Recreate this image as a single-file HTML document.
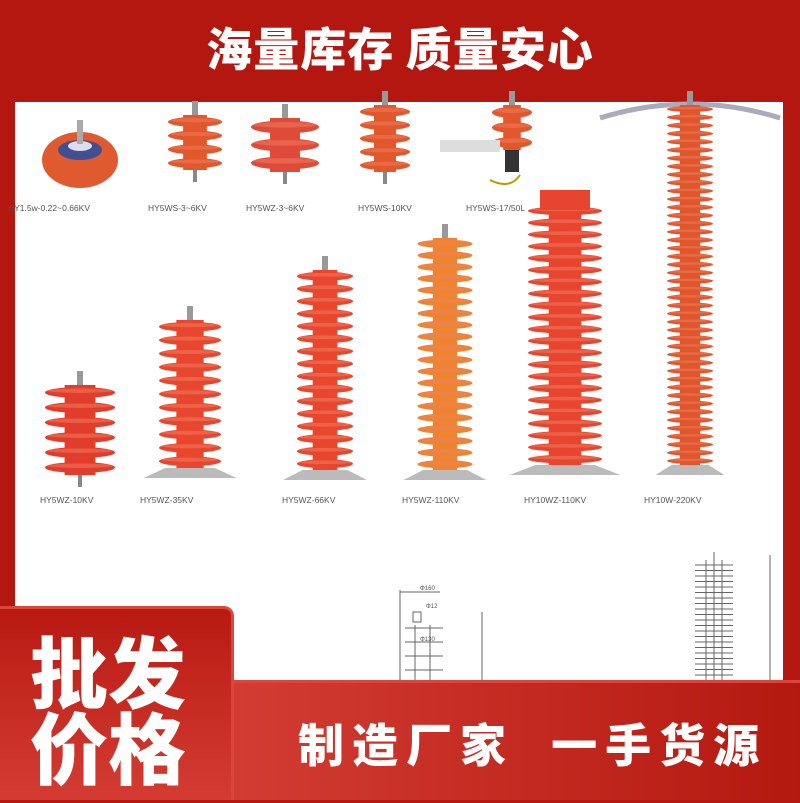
<!DOCTYPE html>
<html><head><meta charset="utf-8"><style>
*{margin:0;padding:0;box-sizing:border-box}
body{width:800px;height:800px;overflow:hidden;background:#b4170f;position:relative;font-family:"Liberation Sans","Noto Sans CJK SC",sans-serif}
.top{position:absolute;left:0;top:0;width:800px;height:100px;text-align:center;color:#fff;font-weight:900;font-size:46px;line-height:94px;letter-spacing:1px;font-family:"Noto Sans CJK SC","WenQuanYi Zen Hei",sans-serif}
.panel{position:absolute;left:15px;top:102px;width:768px;height:698px;background:#fff}
svg{position:absolute;left:0;top:0}
.lb{position:absolute;font-size:8.5px;color:#555;white-space:nowrap}
.lbox{position:absolute;left:0;top:606px;width:234px;height:194px;border-radius:0 10px 0 0;background:linear-gradient(180deg,#b81a12,#d43c33);border-top:3px solid #d9463c;border-right:3px solid #d9463c}
.lbox div{position:absolute;left:30px;color:#fff;font-weight:900;font-size:78px;line-height:76px;font-family:"Noto Sans CJK SC","WenQuanYi Zen Hei",sans-serif}
.bar{position:absolute;left:234px;top:680px;width:566px;height:120px;background:linear-gradient(90deg,#d23c33,#b41910);border-top:3px solid #d9463c;color:#fff;font-weight:900;font-size:46px;line-height:120px;padding-left:64px;letter-spacing:8px;font-family:"Noto Sans CJK SC","WenQuanYi Zen Hei",sans-serif;white-space:nowrap}
</style></head><body>
<div class="top">海量库存 质量安心</div>
<div class="panel"></div>
<svg id="s" width="800" height="800" viewBox="0 0 800 800"></svg>
<div class="lb" style="left:8px;top:203px">HY1.5w-0.22~0.66KV</div>
<div class="lb" style="left:148px;top:203px">HY5WS-3~6KV</div>
<div class="lb" style="left:246px;top:203px">HY5WZ-3~6KV</div>
<div class="lb" style="left:358px;top:203px">HY5WS-10KV</div>
<div class="lb" style="left:466px;top:203px">HY5WS-17/50L</div>
<div class="lb" style="left:40px;top:495px">HY5WZ-10KV</div>
<div class="lb" style="left:140px;top:495px">HY5WZ-35KV</div>
<div class="lb" style="left:282px;top:495px">HY5WZ-66KV</div>
<div class="lb" style="left:402px;top:495px">HY5WZ-110KV</div>
<div class="lb" style="left:524px;top:495px">HY10WZ-110KV</div>
<div class="lb" style="left:644px;top:495px">HY10W-220KV</div>
<div class="lbox"><div style="top:22px">批发</div><div style="top:98px">价格</div></div>
<div class="bar">制造厂家&nbsp;&nbsp;一手货源</div>
<script>
var s=document.getElementById('s'),h='';
function arr(cx,t,b,w,n,col,base){
 h+='<rect x="'+(cx-3)+'" y="'+(t-14)+'" width="6" height="16" fill="#999"/>';
 h+='<rect x="'+(cx-w*0.22)+'" y="'+t+'" width="'+(w*0.44)+'" height="'+(b-t)+'" fill="'+col+'"/>';
 var step=(b-t)/n;
 for(var i=0;i<n;i++){var y=t+step*(i+0.5);
  h+='<ellipse cx="'+cx+'" cy="'+y+'" rx="'+(w/2)+'" ry="'+Math.max(2,step*0.36)+'" fill="'+col+'"/>';
  h+='<ellipse cx="'+cx+'" cy="'+(y-step*0.12)+'" rx="'+(w/2-2)+'" ry="'+Math.max(1,step*0.15)+'" fill="#f08060" opacity=".5"/>';}
 if(base){h+='<polygon points="'+(cx-w*0.4)+','+b+' '+(cx+w*0.4)+','+b+' '+(cx+w*0.75)+','+(b+10)+' '+(cx-w*0.75)+','+(b+10)+'" fill="#bbb"/>';}
 else h+='<rect x="'+(cx-2)+'" y="'+b+'" width="4" height="12" fill="#888"/>';
}
h+='<ellipse cx="80" cy="160" rx="38" ry="28" fill="#e05a30"/><ellipse cx="80" cy="150" rx="22" ry="10" fill="#3f4f90"/><ellipse cx="80" cy="146" rx="12" ry="5" fill="#dde"/><rect x="77" y="120" width="6" height="24" fill="#aaa"/>';
arr(195,115,170,54,4,'#e2572c');
arr(285,118,172,68,3,'#e04a3a');
arr(385,105,172,50,5,'#e2572c');
arr(512,105,150,40,3,'#e2572c');
h+='<rect x="440" y="140" width="60" height="12" fill="#ddd"/><rect x="505" y="150" width="14" height="22" fill="#333"/><path d="M490 180 q20 10 30 -5" stroke="#b90" fill="none" stroke-width="2"/>';
h+='<path d="M600 118 Q690 90 780 118" stroke="#aab" stroke-width="5" fill="none"/>';
arr(690,105,465,46,44,'#e0562d',true);
arr(80,385,475,70,6,'#e23c2c');
arr(190,320,468,62,11,'#e8462e',true);
arr(325,270,470,56,16,'#e8462e',true);
arr(445,238,470,55,20,'#ee8432',true);
arr(565,205,465,74,22,'#e84530',true);
h+='<rect x="540" y="190" width="50" height="20" fill="#e84530"/>';
h+='<g stroke="#666" fill="none" stroke-width="1"><line x1="400" y1="592" x2="440" y2="592"/><line x1="400" y1="590" x2="400" y2="680"/><line x1="482" y1="612" x2="482" y2="680"/><rect x="413" y="612" width="8" height="10"/>';
for(var i=0;i<4;i++){h+='<line x1="405" y1="'+(628+i*14)+'" x2="443" y2="'+(628+i*14)+'"/>';}
h+='<line x1="415" y1="625" x2="415" y2="680"/><line x1="430" y1="625" x2="430" y2="680"/>';
h+='<line x1="770" y1="555" x2="770" y2="680"/><line x1="714" y1="552" x2="714" y2="680"/>';
for(var i=0;i<22;i++){h+='<line x1="695" y1="'+(565+i*5.5)+'" x2="733" y2="'+(565+i*5.5)+'"/>';}
h+='<line x1="706" y1="560" x2="706" y2="680"/><line x1="722" y1="560" x2="722" y2="680"/></g>';
h+='<text x="420" y="590" font-size="6" fill="#555" font-family="Liberation Sans">Φ160</text><text x="426" y="608" font-size="6" fill="#555" font-family="Liberation Sans">Φ12</text><text x="420" y="641" font-size="6" fill="#555" font-family="Liberation Sans">Φ130</text>';
s.innerHTML=h;
</script>
</body></html>
